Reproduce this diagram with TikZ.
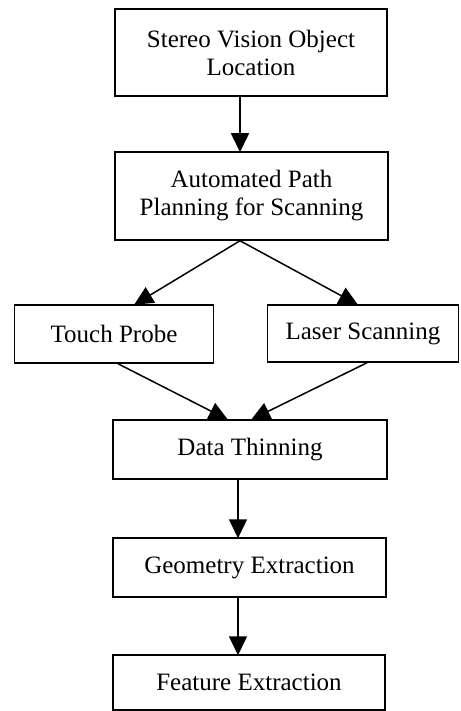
\documentclass[tikz,border=0pt]{standalone}
\usepackage{fontspec}
\setmainfont{Liberation Serif}
\usetikzlibrary{arrows.meta}
\begin{document}
\begin{tikzpicture}[x=1pt,y=-1pt,
  box/.style={draw, line width=1.5pt, inner sep=0pt, align=center,
    font=\fontsize{25}{28}\selectfont},
  arr/.style={line width=1.5pt, -{Triangle[length=19pt,width=18pt]}, shorten >=-1pt}]
\useasboundingbox (0,0) rectangle (460,711);
\node[box, minimum width=272pt, minimum height=87pt] (b1) at (251,52.5) {Stereo Vision Object\\Location};
\node[box, minimum width=273pt, minimum height=88pt] (b2) at (251.5,196) {Automated Path\\Planning for Scanning};
\node[box, minimum width=199pt, minimum height=58pt] (tp) at (114,334) {Touch Probe};
\node[box, minimum width=191pt, minimum height=57pt] (ls) at (363,333.5) {Laser Scanning};
\node[box, minimum width=274pt, minimum height=59pt] (dt) at (250,449.5) {Data Thinning};
\node[box, minimum width=273pt, minimum height=59pt] (ge) at (249.5,567.5) {Geometry Extraction};
\node[box, minimum width=272pt, minimum height=55pt] (fe) at (249,682.5) {Feature Extraction};
\coordinate (x240) at (240,0);
\coordinate (x238) at (238,0);
\coordinate (x135) at (135,0);
\coordinate (x357) at (357,0);
\coordinate (x118) at (118,0);
\coordinate (x367) at (367,0);
\coordinate (x227) at (227,0);
\coordinate (x252) at (252,0);
\draw[arr] (b1.south -| x240) -- (b2.north -| x240);
\draw[arr] (b2.south -| x240) -- (tp.north -| x135);
\draw[arr] (b2.south -| x240) -- (ls.north -| x357);
\draw[arr] (tp.south -| x118) -- (dt.north -| x227);
\draw[arr] (ls.south -| x367) -- (dt.north -| x252);
\draw[arr] (dt.south -| x238) -- (ge.north -| x238);
\draw[arr] (ge.south -| x238) -- (fe.north -| x238);
\end{tikzpicture}
\end{document}
